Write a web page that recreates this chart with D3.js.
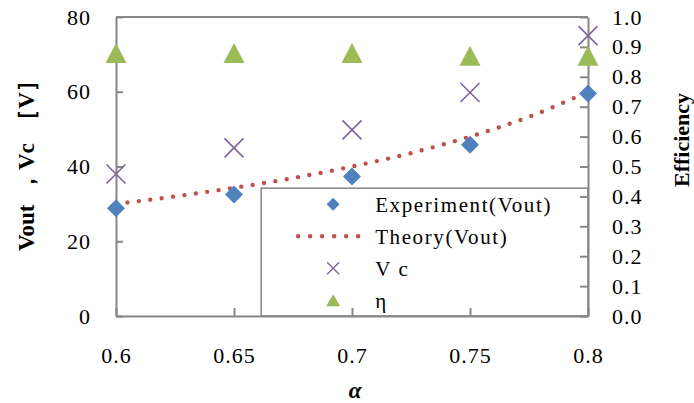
<!DOCTYPE html>
<html>
<head>
<meta charset="utf-8">
<script src="https://cdn.jsdelivr.net/npm/d3@7"></script>
<style>
  body { margin: 0; background: #fff; }
  svg text { font-family: "Liberation Serif", serif; fill: #000; }
</style>
</head>
<body>
<div id="chart"></div>
<script>
// data
const alpha = [0.6, 0.65, 0.7, 0.75, 0.8];
const experiment = [28.8, 32.5, 37.3, 45.8, 59.5];
const vc = [38.0, 45.0, 49.8, 59.8, 75.0];
const eta = [0.88, 0.88, 0.88, 0.87, 0.87];
const theoryAlpha = [0.6, 0.625, 0.65, 0.675, 0.7, 0.725, 0.75, 0.775, 0.8];
const theoryV = [30, 32, 34.3, 36.9, 40, 43.6, 48, 53.3, 60];
const leftTicks = [0, 20, 40, 60, 80];
const rightTicks = [0, 0.1, 0.2, 0.3, 0.4, 0.5, 0.6, 0.7, 0.8, 0.9, 1.0];
const xTicks = [0.6, 0.65, 0.7, 0.75, 0.8];
const legendLabels = ["Experiment(Vout)", "Theory(Vout)", "V c", "η"];

const W = 694, H = 403;
const margin = {top: 17, right: 106, bottom: 87, left: 116};
const width = W - margin.left - margin.right;
const height = H - margin.top - margin.bottom;

const colors = {exp: "#4F81BD", theory: "#C0504D", vc: "#8064A2", eta: "#9BBB59", axis: "#868686"};

const svg = d3.select("#chart").append("svg")
    .attr("width", W)
    .attr("height", H);

const g = svg.append("g")
    .attr("transform", `translate(${margin.left},${margin.top})`);

const x = d3.scaleLinear().domain([0.6, 0.8]).range([0, width]);
const y = d3.scaleLinear().domain([0, 80]).range([height, 0]);
const y2 = d3.scaleLinear().domain([0, 1]).range([height, 0]);

// marker shapes
function diamond(r) { return `M0,${-r}L${r},0L0,${r}L${-r},0Z`; }
function cross(r) { return `M${-r},${-r}L${r},${r}M${-r},${r}L${r},${-r}`; }
function triangle(w, h) { return `M0,${-h / 2}L${w / 2},${h / 2}L${-w / 2},${h / 2}Z`; }

// frame top
g.append("line")
    .attr("x1", 0).attr("x2", width).attr("y1", 0).attr("y2", 0)
    .attr("stroke", colors.axis).attr("stroke-width", 2);

// legend box (under the axes ticks)
const legend = g.append("g")
    .attr("transform", `translate(${x(0.6615)},${y(34.2)})`);
legend.append("rect")
    .attr("width", width - x(0.6615))
    .attr("height", height - y(34.2))
    .attr("fill", "#fff")
    .attr("stroke", colors.axis)
    .attr("stroke-width", 1.5);

// axes
const fmtY2 = d3.format(".1f");
const axisStyle = sel => {
    sel.select(".domain").attr("stroke", colors.axis).attr("stroke-width", 2);
    sel.selectAll(".tick line").attr("stroke", colors.axis).attr("stroke-width", 2);
    sel.selectAll(".tick text")
        .style("font-size", "22px")
        .style("letter-spacing", "1px")
        .style("font-family", "Liberation Serif");
};

g.append("g")
    .call(d3.axisLeft(y).tickValues(leftTicks).tickSize(-7).tickSizeOuter(0).tickPadding(25))
    .call(axisStyle);

g.append("g")
    .attr("transform", `translate(${width},0)`)
    .call(d3.axisRight(y2).tickValues(rightTicks).tickFormat(fmtY2).tickSize(-8).tickSizeOuter(0).tickPadding(24))
    .call(axisStyle);

g.append("g")
    .attr("transform", `translate(0,${height})`)
    .call(d3.axisBottom(x).tickValues(xTicks).tickFormat(d3.format("")).tickSize(-8).tickSizeOuter(0).tickPadding(31))
    .call(axisStyle);

// theory curve
const line = d3.line()
    .x((d, i) => x(theoryAlpha[i]))
    .y(d => y(d))
    .curve(d3.curveMonotoneX);

g.append("path")
    .datum(theoryV)
    .attr("d", line)
    .attr("fill", "none")
    .attr("stroke", colors.theory)
    .attr("stroke-width", 4.4)
    .attr("stroke-linecap", "round")
    .attr("stroke-dasharray", "0 11.5");

// experiment diamonds
g.selectAll(".exp")
    .data(experiment)
    .enter().append("path")
    .attr("class", "exp")
    .attr("transform", (d, i) => `translate(${x(alpha[i])},${y(d)})`)
    .attr("d", diamond(9))
    .attr("fill", colors.exp);

// Vc crosses
g.selectAll(".vc")
    .data(vc)
    .enter().append("path")
    .attr("class", "vc")
    .attr("transform", (d, i) => `translate(${x(alpha[i])},${y(d)})`)
    .attr("d", cross(9.5))
    .attr("fill", "none")
    .attr("stroke", colors.vc)
    .attr("stroke-width", 1.6);

// efficiency triangles
g.selectAll(".eta")
    .data(eta)
    .enter().append("path")
    .attr("class", "eta")
    .attr("transform", (d, i) => `translate(${x(alpha[i])},${y2(d)})`)
    .attr("d", triangle(21, 20))
    .attr("fill", colors.eta);

// legend entries
const rowY = [16, 48, 80, 112];
const mx = 72, tx = 114;
legend.append("path")
    .attr("transform", `translate(${mx},${rowY[0]})`)
    .attr("d", diamond(6.5)).attr("fill", colors.exp);
legend.append("line")
    .attr("x1", mx - 35).attr("x2", mx + 26).attr("y1", rowY[1]).attr("y2", rowY[1])
    .attr("stroke", colors.theory).attr("stroke-width", 4.4)
    .attr("stroke-linecap", "round").attr("stroke-dasharray", "0 12");
legend.append("path")
    .attr("transform", `translate(${mx},${rowY[2]})`)
    .attr("d", cross(6)).attr("fill", "none")
    .attr("stroke", colors.vc).attr("stroke-width", 1.4);
legend.append("path")
    .attr("transform", `translate(${mx},${rowY[3]})`)
    .attr("d", triangle(14, 12)).attr("fill", colors.eta);

legend.selectAll(".lt")
    .data(legendLabels)
    .enter().append("text")
    .attr("class", "lt")
    .attr("x", tx)
    .attr("y", (d, i) => rowY[i])
    .attr("dy", "0.35em")
    .style("font-size", "21px")
    .style("letter-spacing", "1.6px")
    .text(d => d);

// axis titles
svg.append("text")
    .attr("transform", `translate(34,160) rotate(-90)`)
    .attr("text-anchor", "middle")
    .attr("xml:space", "preserve")
    .style("white-space", "pre")
    .style("font-weight", "bold")
    .style("font-size", "23px")
    .text("Vout  ，Vc  ［V］");

svg.append("text")
    .attr("transform", `translate(689,140) rotate(-90)`)
    .attr("text-anchor", "middle")
    .style("font-weight", "bold")
    .style("font-size", "22px")
    .text("Efficiency");

svg.append("text")
    .attr("x", margin.left + width / 2 + 3)
    .attr("y", 398)
    .attr("text-anchor", "middle")
    .style("font-weight", "bold")
    .style("font-style", "italic")
    .style("font-size", "23px")
    .text("α");
</script>
</body>
</html>
